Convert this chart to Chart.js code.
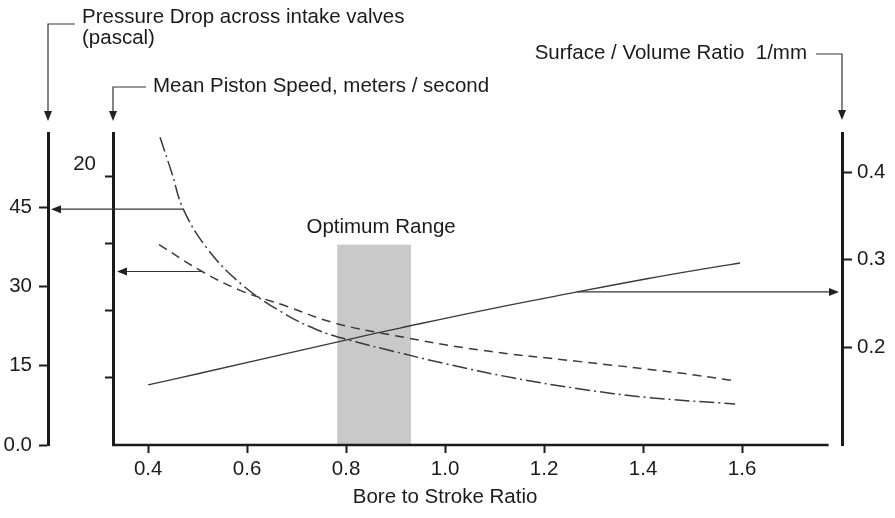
<!DOCTYPE html>
<html>
<head>
<meta charset="utf-8">
<script src="https://cdn.jsdelivr.net/npm/chart.js@4.4.0/dist/chart.umd.min.js"></script>
<style>
  body { margin: 0; background: #fff; }
  #wrap { width: 895px; height: 518px; position: relative; }
</style>
</head>
<body>
<div id="wrap"><canvas id="chart"></canvas></div>
<script>
// curves: bore to stroke ratio (x) and value on each axis
const pressureX = [0.424, 0.448, 0.471, 0.519, 0.586, 0.667, 0.741, 0.808, 0.875, 1.004, 1.137, 1.273, 1.408, 1.586];
const pressureDrop = [58.2, 51.4, 44.6, 37.2, 30.6, 25.3, 21.8, 19.8, 18.2, 15.3, 12.7, 10.6, 9.0, 7.75];

const speedX = [0.422, 0.509, 0.586, 0.681, 0.774, 0.889, 1.071, 1.273, 1.475, 1.58];
const pistonSpeed = [14.9, 12.9, 11.5, 10.3, 9.1, 8.2, 7.06, 6.2, 5.35, 4.8];

const surfaceX = [0.4, 0.505, 0.808, 0.909, 1.09, 1.267, 1.408, 1.541, 1.596];
const surfaceRatio = [0.1566, 0.170, 0.2091, 0.2217, 0.2434, 0.2629, 0.278, 0.291, 0.296];

// tick values
const xTicks = [0.4, 0.6, 0.8, 1.0, 1.2, 1.4, 1.6];
const pressureTicks = [0, 15, 30, 45];
const speedTicks = [5, 10, 15, 20];
const ratioTicks = [0.2, 0.3, 0.4];

// shaded optimum range, top given on the piston speed scale
const optimumRange = [0.782, 0.931];
const optimumTop = 14.9;

// where the pointer arrows leave each curve (x, value on the curve's own axis)
const pressureArrow = [0.471, 44.6];
const speedArrow = [0.509, 12.9];
const surfaceArrow = [1.267, 0.2629];

const FONT = '20.5px "Liberation Sans", Arial, sans-serif';
const INK = '#1b1b1b';
const LINE = '#3a3a3a';

function toPoints(xs, ys) {
    return xs.map((x, i) => ({ x: x, y: ys[i] }));
}

function fixTicks(values) {
    return function (scale) {
        scale.ticks = values.map(v => ({ value: v }));
    };
}

// small filled triangle, tip at (x, y)
function arrowHead(ctx, x, y, dir) {
    ctx.beginPath();
    ctx.moveTo(x, y);
    if (dir === 'left') { ctx.lineTo(x + 10, y - 4); ctx.lineTo(x + 10, y + 4); }
    if (dir === 'right') { ctx.lineTo(x - 10, y - 4); ctx.lineTo(x - 10, y + 4); }
    if (dir === 'down') { ctx.lineTo(x - 4, y - 10); ctx.lineTo(x + 4, y - 10); }
    ctx.closePath();
    ctx.fill();
}

function line(ctx, x1, y1, x2, y2) {
    ctx.beginPath();
    ctx.moveTo(x1, y1);
    ctx.lineTo(x2, y2);
    ctx.stroke();
}

// axis header: text plus an elbow leader that drops onto the axis
function header(ctx, lines, tx, ty, axisX, leaderY, tipY, textRight) {
    ctx.fillStyle = INK;
    ctx.font = FONT;
    ctx.textBaseline = 'middle';
    ctx.textAlign = textRight ? 'right' : 'left';
    lines.forEach((t, i) => ctx.fillText(t, tx, ty + i * 21));
    ctx.strokeStyle = '#333';
    ctx.lineWidth = 1.2;
    ctx.beginPath();
    ctx.moveTo(textRight ? tx + 9 : tx - 7, leaderY);
    ctx.lineTo(axisX, leaderY);
    ctx.lineTo(axisX, tipY - 8);
    ctx.stroke();
    ctx.fillStyle = '#222';
    arrowHead(ctx, axisX, tipY, 'down');
}

const extras = {
    id: 'extras',
    beforeDatasetsDraw(chart) {
        const { ctx, scales } = chart;
        const left = scales.x.getPixelForValue(optimumRange[0]);
        const right = scales.x.getPixelForValue(optimumRange[1]);
        const top = scales.speed.getPixelForValue(optimumTop);
        const bottom = scales.speed.getPixelForValue(0);
        ctx.save();
        ctx.fillStyle = '#c9c9c9';
        ctx.fillRect(left, top, right - left, bottom - top);
        ctx.restore();
    },
    afterDraw(chart) {
        const { ctx, scales, chartArea } = chart;
        const x = scales.x;
        ctx.save();

        // bottom axis line stops short of the right axis
        ctx.strokeStyle = INK;
        ctx.lineWidth = 2.5;
        line(ctx, chartArea.left - 1, chartArea.bottom, x.getPixelForValue(1.775), chartArea.bottom);

        // pointer arrows from each curve to its axis
        ctx.strokeStyle = '#333';
        ctx.fillStyle = '#222';
        ctx.lineWidth = 1.2;
        let py = scales.pressure.getPixelForValue(pressureArrow[1]);
        line(ctx, x.getPixelForValue(pressureArrow[0]), py, scales.pressure.right + 8, py);
        arrowHead(ctx, scales.pressure.right + 3, py, 'left');

        py = scales.speed.getPixelForValue(speedArrow[1]);
        line(ctx, x.getPixelForValue(speedArrow[0]), py, scales.speed.right + 9, py);
        arrowHead(ctx, scales.speed.right + 4, py, 'left');

        py = scales.ratio.getPixelForValue(surfaceArrow[1]);
        line(ctx, x.getPixelForValue(surfaceArrow[0]), py, scales.ratio.left - 8, py);
        arrowHead(ctx, scales.ratio.left - 3, py, 'right');

        // axis headers
        header(ctx, ['Pressure Drop across intake valves', '(pascal)'], 82, 17,
            scales.pressure.right, 24, 121, false);
        header(ctx, ['Mean Piston Speed, meters / second'], 153, 86,
            scales.speed.right, 87, 121, false);
        header(ctx, ['Surface / Volume Ratio  1/mm'], 807, 53,
            scales.ratio.left, 54, 120, true);

        // optimum range label and x title
        ctx.fillStyle = INK;
        ctx.font = FONT;
        ctx.textAlign = 'center';
        ctx.textBaseline = 'middle';
        const mid = x.getPixelForValue((optimumRange[0] + optimumRange[1]) / 2);
        ctx.fillText('Optimum Range', mid + 7, scales.speed.getPixelForValue(optimumTop) - 17);
        ctx.fillText('Bore to Stroke Ratio', x.getPixelForValue(1.0), 497);
        ctx.restore();
    }
};

// shared look for the axes
function axisGrid(len) {
    return { drawOnChartArea: false, drawTicks: true, tickLength: len, tickWidth: 2, tickColor: INK };
}

const tickFont = { family: '"Liberation Sans", Arial', size: 20.5 };

const data = {
    datasets: [
        {
            label: 'Pressure Drop',
            data: toPoints(pressureX, pressureDrop),
            yAxisID: 'pressure',
            borderColor: LINE,
            borderWidth: 1.5,
            borderDash: [15, 4, 2, 4],
        },
        {
            label: 'Mean Piston Speed',
            data: toPoints(speedX, pistonSpeed),
            yAxisID: 'speed',
            borderColor: LINE,
            borderWidth: 1.5,
            borderDash: [9, 6],
        },
        {
            label: 'Surface / Volume Ratio',
            data: toPoints(surfaceX, surfaceRatio),
            yAxisID: 'ratio',
            borderColor: LINE,
            borderWidth: 1.3,
        }
    ]
};

const config = {
    type: 'scatter',
    data,
    options: {
        responsive: true,
        maintainAspectRatio: false,
        animation: false,
        layout: { padding: { top: 133, left: 0, right: 0, bottom: 0 } },
        elements: {
            line: { tension: 0.4, fill: false },
            point: { radius: 0, hoverRadius: 0 }
        },
        datasets: { scatter: { showLine: true } },
        plugins: {
            legend: { display: false },
            tooltip: { enabled: false }
        },
        scales: {
            x: {
                type: 'linear',
                position: 'bottom',
                min: 0.329,
                max: 1.802,
                afterBuildTicks: fixTicks(xTicks),
                afterFit: s => { s.height = 73; },
                grid: axisGrid(8),
                border: { display: false },
                ticks: { color: INK, padding: 4, font: tickFont, callback: v => v.toFixed(1) }
            },
            pressure: {
                type: 'linear',
                position: 'left',
                weight: 2,
                min: 0,
                max: 59,
                afterBuildTicks: fixTicks(pressureTicks),
                afterFit: s => { s.width = 48; },
                grid: axisGrid(9),
                border: { display: true, width: 3, color: INK },
                ticks: {
                    color: INK, padding: 7, font: tickFont,
                    callback: v => (v === 0 ? '0.0' : String(v))
                }
            },
            speed: {
                type: 'linear',
                position: 'left',
                weight: 1,
                min: 0,
                max: 23.2,
                afterBuildTicks: fixTicks(speedTicks),
                afterFit: s => { s.width = 65; },
                grid: axisGrid(8),
                border: { display: true, width: 3, color: INK },
                ticks: {
                    color: INK, padding: 9, labelOffset: -12, font: tickFont,
                    callback: v => (v === 20 ? '20' : '')
                }
            },
            ratio: {
                type: 'linear',
                position: 'right',
                min: 0.088,
                max: 0.4446,
                afterBuildTicks: fixTicks(ratioTicks),
                afterFit: s => { s.width = 53; },
                grid: axisGrid(10),
                border: { display: true, width: 3, color: INK },
                ticks: { color: INK, padding: 5, font: tickFont, callback: v => v.toFixed(1) }
            }
        }
    },
    plugins: [extras]
};

// render the chart
const chart = new Chart(document.getElementById('chart'), config);
</script>
</body>
</html>
